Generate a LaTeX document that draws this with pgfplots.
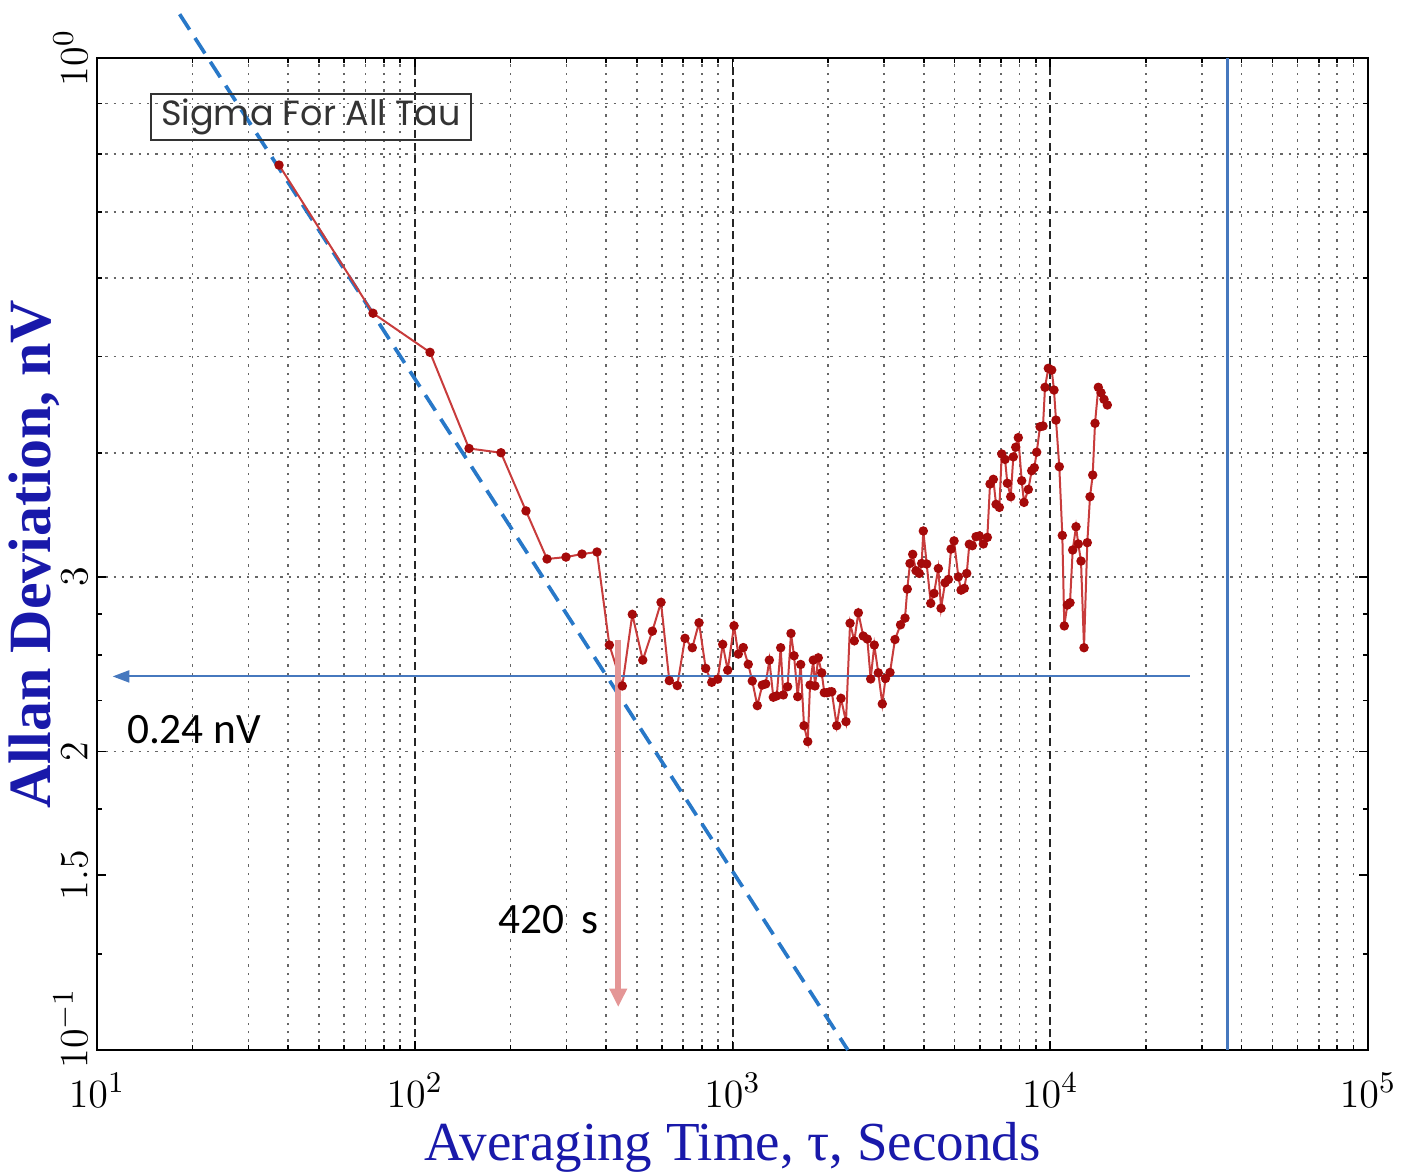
\documentclass[border=0pt]{standalone}
\usepackage{fontspec}
\setmainfont{Liberation Serif}
\newfontfamily\calibri{Carlito}
\newfontfamily\gothic{Poppins}
\usepackage{pgfplots}
\pgfplotsset{compat=1.18}
\usetikzlibrary{arrows.meta}
\definecolor{labelblue}{RGB}{25,25,170}
\definecolor{dashblue}{RGB}{40,120,200}
\definecolor{lineblue}{RGB}{70,120,190}
\definecolor{datared}{RGB}{200,60,60}
\definecolor{markred}{RGB}{165,10,10}
\definecolor{pinkarrow}{RGB}{228,150,150}
\pgfplotstableread{
x y
37.4 0.780
73.9 0.553
111.7 0.505
148.2 0.404
186.8 0.400
223.9 0.3495
260.8 0.3126
299.2 0.3140
336.0 0.3162
374.6 0.3177
409.7 0.2560
450 0.2328
483.8 0.2749
521.9 0.2472
559.5 0.2644
595.7 0.2827
632.6 0.2357
670.2 0.2330
708.8 0.2600
747.4 0.2544
784.6 0.2696
823.5 0.2425
860.1 0.2348
898.2 0.2365
931.4 0.2564
965.8 0.2415
1011 0.2677
1043 0.2507
1081 0.2545
1121 0.2448
1154 0.2355
1197 0.2224
1241 0.2333
1272 0.2339
1306 0.2472
1344 0.2268
1378 0.2275
1418 0.2544
1445 0.2280
1491 0.2324
1528 0.2630
1562 0.2497
1604 0.2271
1639 0.2447
1679 0.2123
1725 0.2046
1754 0.2333
1796 0.2472
1818 0.2328
1862 0.2485
1909 0.2400
1945 0.2292
1983 0.2292
2020 0.2296
2053 0.2297
2128 0.2123
2195 0.2262
2276 0.2143
2344 0.2693
2417 0.2585
2489 0.2759
2579 0.2614
2656 0.2596
2722 0.2366
2794 0.2560
2876 0.2400
2961 0.2233
3030 0.2369
3131 0.2402
3246 0.2593
3379 0.2683
3491 0.2725
3549 0.2915
3619 0.3094
3691 0.3160
3780 0.3042
3872 0.3023
3939 0.3094
3986 0.3336
4085 0.3090
4206 0.2820
4307 0.2886
4444 0.3058
4532 0.2788
4666 0.2958
4779 0.2981
4873 0.3199
4980 0.3260
5138 0.2999
5239 0.2908
5365 0.2920
5460 0.3023
5563 0.3235
5686 0.3224
5840 0.3292
5981 0.3298
6157 0.3237
6339 0.3287
6464 0.3721
6621 0.3761
6752 0.3549
6916 0.3524
7037 0.3989
7207 0.3939
7328 0.3727
7510 0.3612
7653 0.3963
7786 0.4052
7934 0.4143
8131 0.3749
8268 0.3565
8530 0.3674
8743 0.3837
8910 0.3864
9065 0.4005
9285 0.4249
9489 0.4256
9627 0.4656
9860 0.4866
10106 0.4847
10275 0.4627
10425 0.4315
10678 0.3873
10914 0.3302
11072 0.2676
11316 0.2809
11539 0.2824
11767 0.3192
12052 0.3369
12253 0.3237
12496 0.3111
12772 0.2544
13079 0.3247
13338 0.3612
13602 0.3799
13832 0.4283
14167 0.4656
14447 0.4598
14764 0.4528
15122 0.4469
}\allan
\begin{document}
\begin{tikzpicture}
\begin{axis}[
  scale only axis, width=381.3pt, height=297.6pt,
  xmode=log, ymode=log,
  xmin=10, xmax=100000, ymin=0.1, ymax=1,
  clip=false,
  axis line style={line width=0.8pt},
  tick align=inside,
  major tick length=2.6pt, minor tick length=1.6pt,
  every tick/.style={black, line width=0.5pt},
  xtick={10,100,1000,10000,100000},
  xticklabels={$10^1$,$10^2$,$10^3$,$10^4$,$10^5$},
  minor xtick={20,30,40,50,60,70,80,90,200,300,400,500,600,700,800,900,2000,3000,4000,5000,6000,7000,8000,9000,20000,30000,40000,50000,60000,70000,80000,90000},
  ytick={0.1,0.15,0.2,0.3,1},
  yticklabels={\hspace{13pt}$10^{-1}$,$1.5$,$2$,$3$,$10^0$},
  minor ytick={0.2,0.3,0.4,0.5,0.6,0.7,0.8,0.9},
  extra y ticks={0.125,0.175,0.225,0.25,0.275},
  extra y tick labels={},
  extra y tick style={major tick length=1.6pt, grid=none},
  xmajorgrids, xminorgrids, yminorgrids, ymajorgrids=false,
  minor grid style={black!60, line width=0.5pt, dash pattern=on 0.7pt off 1.8pt},
  major grid style={black!85, line width=0.6pt, dash pattern=on 2.4pt off 1.4pt},
  ticklabel style={font=\fontsize{13}{15}\selectfont},
  xticklabel style={yshift=-3.5pt},
  yticklabel style={rotate=90, anchor=south, inner sep=2.7pt},
  xlabel={Averaging Time, τ, Seconds},
  ylabel={Allan Deviation, nV},
  xlabel style={at={([yshift=-21.6pt]axis description cs:0.5,0)}, anchor=north, inner sep=0pt,
     font=\fontsize{16.5}{19}\selectfont, text=labelblue},
  ylabel style={at={([xshift=-14.1pt]axis description cs:0,0.5)}, anchor=base, rotate=0, inner sep=0pt,
     font=\fontsize{18}{21}\selectfont\bfseries, text=labelblue},
]
\addplot[dashblue, line width=1.1pt, dash pattern=on 5.5pt off 3pt] coordinates {(18.2,1.107) (2307,0.1)};
\addplot[datared, line width=0.6pt, mark=*, mark size=1.1pt, mark options={fill=markred, draw=markred, solid}] table[x=x, y=y] {\allan};
\addplot[lineblue, line width=0.6pt, -{Triangle[length=5pt, width=3.6pt]}] coordinates {(27500,0.238) (11.2,0.238)};
\addplot[pinkarrow, line width=1.8pt, -{Triangle[length=5.5pt, width=5pt]}] coordinates {(437,0.2593) (437,0.1105)};
\addplot[lineblue, line width=0.9pt] coordinates {(36250,0.1) (36250,1)};
\node[draw=black!80, line width=0.6pt, inner xsep=3pt, inner ysep=1.6pt, anchor=west,
      font=\gothic\fontsize{10.5}{12}\selectfont, text=black!80] at (axis cs:14.7,0.872) {Sigma For All Tau};
\node[font=\calibri\fontsize{13}{15}\selectfont, anchor=center] at (axis cs:20.2,0.2104) {0.24 nV};
\node[font=\calibri\fontsize{13}{15}\selectfont, anchor=base west, inner sep=0pt] at (axis cs:182.8,0.1312) {420\hspace{5pt}s};
\end{axis}
\pgfresetboundingbox
\path[use as bounding box] ([shift={(-29.1pt,-37.8pt)}]current axis.south west) rectangle ([shift={(12.9pt,17.4pt)}]current axis.north east);
\end{tikzpicture}
\end{document}
